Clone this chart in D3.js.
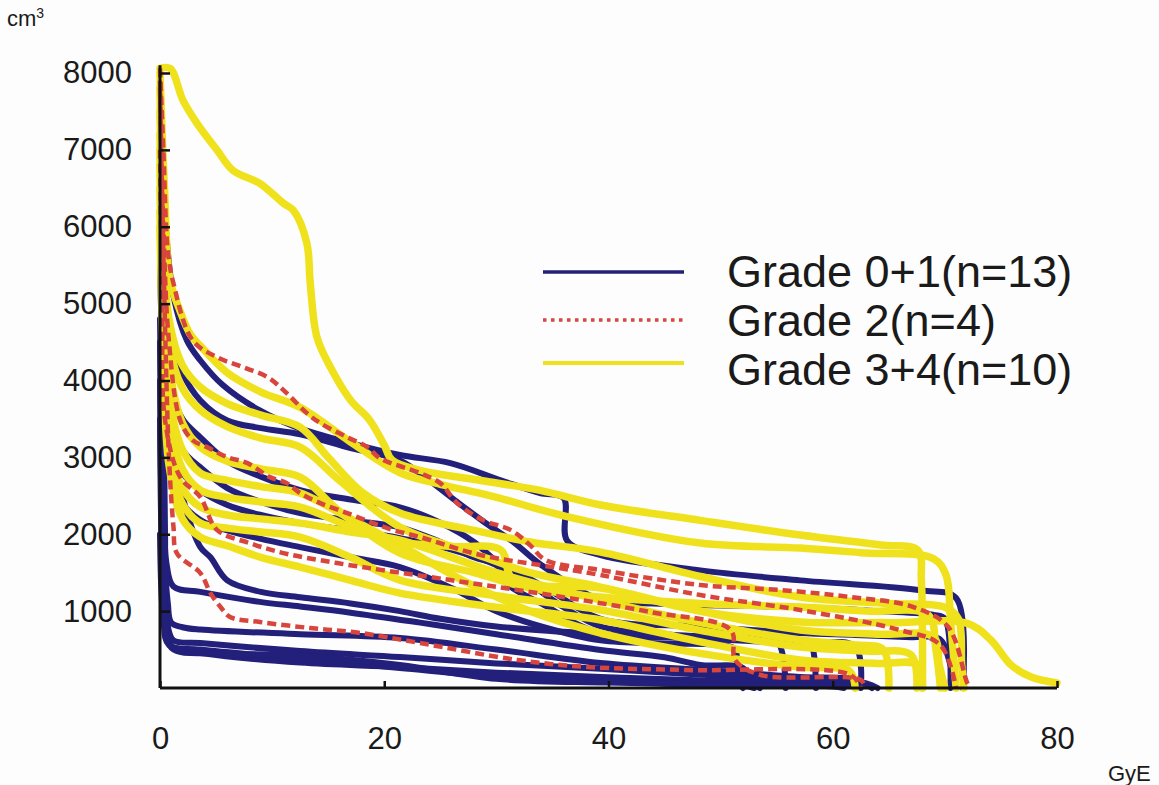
<!DOCTYPE html>
<html>
<head>
<meta charset="utf-8">
<script src="https://cdn.jsdelivr.net/npm/d3@7"></script>
<style>
  html, body { margin: 0; padding: 0; background: #fdfdfd; }
  svg { display: block; }
  text { font-family: "Liberation Sans", Arial, Helvetica, sans-serif; fill: #1a1a1a; }
</style>
</head>
<body>
<svg id="chart" width="1159" height="785"></svg>
<script>
// Dose-volume histograms: each curve is a list of [dose (GyE), volume (cm3)] points.

// Grade 0+1 (n=13)
const grade01 = [
  [[0,7000],[0.5,6000],[1.2,5100],[2.4,4520],[3.6,4260],[5.6,3940],[8.9,3610],[12.2,3390],[17,3185],[21.4,3030],[25.9,2925],[30.4,2700],[33.9,2535],[36,2470],[36.3,1920],[39.3,1730],[48.2,1530],[57.1,1400],[67.9,1270],[71,1170],[71.6,0]],
  [[0,6800],[0.4,5400],[1,4600],[2,4100],[3.6,3740],[6,3480],[9,3380],[12.5,3300],[17,3120],[21.4,2960],[24,2700],[26.5,2420],[29,2150],[31.5,1900],[34,1600],[39.3,1150],[44,1100],[48.2,1080],[57.1,1050],[64,1000],[69,950],[70,900],[70.5,0]],
  [[0,6200],[0.4,4800],[1,3900],[2,3500],[3.6,3260],[6,2950],[9,2750],[12.5,2575],[17,2450],[21.4,2350],[25,2150],[28,1900],[30,1650],[32,1500],[35,1250],[39.3,900],[48.2,800],[57.1,715],[62,690],[67,660],[69.5,640],[70.5,300],[71,0]],
  [[0,6000],[0.3,4500],[0.8,3700],[2,3100],[3.6,2870],[6,2600],[9,2420],[12.5,2275],[17,2180],[21.4,2090],[25,1900],[28,1700],[30,1600],[31,1350],[34,1100],[39.3,715],[48.2,670],[57.1,624],[58,600],[58.5,0]],
  [[0,5800],[0.3,4300],[0.8,3300],[2,2800],[3.6,2570],[6,2380],[9,2250],[12.5,2145],[17,2050],[21.4,1950],[26,1800],[30,1600],[33,1350],[36,1050],[39.3,800],[45,700],[52,650],[55,620],[55.8,0]],
  [[0,5500],[0.3,4000],[0.7,3000],[1.5,2500],[3.6,2184],[6,2050],[9,1940],[12.5,1833],[17,1700],[21.4,1573],[26,1300],[30,1000],[34,800],[39.3,620],[45,580],[50,560],[51.3,500],[51.5,100],[52,0]],
  [[0,6000],[0.5,4500],[1,3400],[2,2500],[3.6,1833],[4.5,1700],[6,1400],[9,1250],[12.5,1180],[17,1100],[21.4,1000],[25,900],[30,800],[39.3,700],[48.2,640],[57.1,580],[62,540],[62.5,0]],
  [[0,4800],[0.3,2500],[0.6,1600],[1.2,1320],[3.6,1250],[8.9,1120],[12.5,1060],[17,980],[23.2,850],[30,700],[39.3,494],[45,400],[48.2,300],[52,260],[53,50],[53.5,0]],
  [[0,4500],[0.3,2000],[0.7,1100],[1,850],[2,790],[3.6,760],[12.5,700],[21.4,650],[30,500],[39.3,325],[50,220],[57.1,143],[62,110],[63.5,0]],
  [[0,4000],[0.3,1500],[0.7,800],[1.2,620],[3.6,585],[12.5,480],[21.4,403],[30,320],[39.3,250],[50,160],[57.1,100],[63,60],[64,0]],
  [[0,3500],[0.3,1200],[0.7,650],[1.2,520],[3.6,455],[12.5,330],[21.4,273],[30,200],[39.3,143],[50,90],[57.1,60],[61.5,40],[62,0]],
  [[0,2000],[0.3,900],[0.8,560],[3.6,500],[12.5,380],[21.4,260],[30,150],[39.3,100],[45,60],[52,30],[53,0]],
  [[0,8000],[0.15,6000],[0.3,4000],[0.45,2000],[0.7,600],[1.5,480],[5,450],[12.5,420],[21.4,300],[30,120],[40,70],[50,40],[60,20],[61,0]]
];

// Grade 2 (n=4)
const grade2 = [
  [[0,8060],[0.3,7000],[0.7,5690],[1.2,5265],[2.9,4524],[5.1,4303],[7.4,4173],[9.6,4043],[11.3,3835],[13.1,3575],[14.3,3445],[16.7,3263],[18.5,3133],[19.6,2990],[23.2,2795],[25,2665],[26.5,2405],[28.8,2184],[31.3,2054],[33,1859],[34.4,1664],[39.3,1534],[48.2,1339],[55.4,1274],[61.6,1183],[67.2,1053],[70.3,793],[72,65],[72.3,0]],
  [[0,7900],[0.3,6000],[0.8,4500],[1.8,3484],[2.9,3224],[4.2,3133],[6,3003],[7.8,2925],[9.8,2743],[11.3,2665],[12.5,2535],[14.3,2405],[16.7,2275],[19,2145],[20.8,2054],[23.2,1963],[28.6,1729],[33.9,1599],[39.3,1469],[48.2,1209],[57.1,1014],[66,754],[69.6,559],[71,0]],
  [[0,7800],[0.4,5000],[0.8,3000],[1.2,2100],[1.5,1755],[3.6,1495],[4.5,1235],[5.4,1053],[6.25,923],[8.9,858],[13.4,780],[17.9,715],[23.2,585],[31.9,364],[38.1,273],[47,234],[61.6,169],[62.5,0]],
  [[0,7000],[0.2,5000],[0.45,3484],[1.8,2743],[3.6,2483],[5.1,2054],[8,1885],[11,1755],[15.8,1625],[25.9,1404],[34.8,1209],[43.75,988],[50.9,754],[51.3,364],[53.6,169],[62.5,104],[62.9,0]]
];

// Grade 3+4 (n=10)
const grade34 = [
  [[0,8060],[0.9,8060],[2.05,7644],[3.3,7345],[5.1,6994],[6.5,6734],[8.9,6565],[11,6305],[11.9,6214],[13.1,5785],[13.4,5265],[14,4563],[15.2,4173],[17,3744],[18.7,3484],[20,3159],[20.7,2964],[23.2,2830],[28.6,2700],[33.9,2570],[39.3,2380],[48.2,2180],[57.1,1990],[64.3,1860],[67.6,1790],[67.9,1400],[68,0]],
  [[0,8000],[0.4,6500],[0.9,5300],[1.8,4900],[2.7,4600],[3.6,4450],[6,4100],[9,3850],[12.5,3650],[17,3200],[21.4,2800],[25,2650],[29.5,2500],[36.3,2230],[48.2,1885],[57.1,1820],[62.5,1760],[69,1680],[70.1,1470],[70.5,884],[71,0]],
  [[0,7500],[0.3,6000],[0.8,4800],[2,4200],[3.6,3913],[6,3700],[9,3550],[12.5,3393],[15,3000],[18,2550],[21.4,2275],[28,2050],[33,1900],[39.3,1768],[48.2,1450],[57.1,1183],[65,1100],[70,1050],[71.2,900],[71.5,300],[71.7,0]],
  [[0,7800],[0.3,6000],[0.8,4500],[2,3900],[3.6,3614],[6,3400],[9,3250],[12.5,3133],[16,2700],[21.4,2093],[28,1750],[33,1500],[39.3,1313],[48.2,1000],[57.1,860],[65,850],[72,840],[74.1,624],[75.9,299],[77.7,143],[80,65]],
  [[0,7200],[0.3,5500],[0.8,4200],[2,3450],[3.6,3133],[6,2950],[9,2850],[12.5,2743],[16,2300],[21.4,1755],[28,1500],[33,1300],[39.3,1183],[48.2,1100],[57.1,1053],[63,1000],[68.5,950],[69.2,500],[69.6,0]],
  [[0,7000],[0.3,5200],[0.8,3800],[2,3100],[3.6,2795],[6,2700],[9,2620],[12.5,2535],[17,2200],[21.4,1859],[27,1400],[33,1000],[39.3,715],[48.2,450],[57.1,273],[61.5,220],[62,0]],
  [[0,6800],[0.3,5000],[0.8,3600],[2,2850],[3.6,2574],[6,2480],[9,2420],[12.5,2353],[17,2100],[21.4,1900],[26,1840],[30.4,1794],[31.5,1404],[39.3,1300],[48.2,1000],[57.1,754],[64,700],[69,660],[69.5,300],[70,0]],
  [[0,6500],[0.3,4800],[0.8,3300],[2,2600],[3.6,2353],[6,2250],[9,2200],[12.5,2145],[17,2030],[21.4,1924],[30,1500],[39.3,1144],[48.2,850],[57.1,624],[62,560],[64.5,500],[65,0]],
  [[0,6200],[0.3,4500],[0.8,3100],[2,2400],[3.6,2145],[6,2080],[9,2030],[12.5,1963],[17,1700],[21.4,1404],[30,1200],[39.3,1014],[48.2,750],[57.1,533],[63,480],[67,430],[67.5,0]],
  [[0,6000],[0.3,4300],[0.8,2900],[2,2200],[3.6,1963],[6,1850],[9,1700],[12.5,1573],[17,1400],[21.4,1235],[30,1050],[39.3,884],[48.2,600],[57.1,364],[64,320],[67.6,300],[68,0]]
];

const yTicks = [1000, 2000, 3000, 4000, 5000, 6000, 7000, 8000];
const xTicks = [0, 20, 40, 60, 80];
const legendLabels = ["Grade 0+1(n=13)", "Grade 2(n=4)", "Grade 3+4(n=10)"];

const colors = { g01: "#22207a", g2: "#d8453d", g34: "#efe21c" };

const svg = d3.select("#chart");

const x = d3.scaleLinear().domain([0, 80]).range([160, 1057]);
const y = d3.scaleLinear().domain([0, 8100]).range([688, 65.3]);

const line = d3.line()
  .x(d => x(d[0]))
  .y(d => y(d[1]))
  .curve(d3.curveCatmullRom.alpha(0.5));

const plot = svg.append("g");

// Grade 0+1 curves (solid navy)
plot.append("g").selectAll("path").data(grade01).join("path")
  .attr("d", line)
  .attr("fill", "none")
  .attr("stroke", colors.g01)
  .attr("stroke-width", 6)
  .attr("stroke-linejoin", "round")
  .attr("stroke-linecap", "round");

// Grade 3+4 curves (solid yellow)
plot.append("g").selectAll("path").data(grade34).join("path")
  .attr("d", line)
  .attr("fill", "none")
  .attr("stroke", colors.g34)
  .attr("stroke-width", 7.5)
  .attr("stroke-linejoin", "round")
  .attr("stroke-linecap", "round");

// Grade 2 curves (dashed red)
plot.append("g").selectAll("path").data(grade2).join("path")
  .attr("d", line)
  .attr("fill", "none")
  .attr("stroke", colors.g2)
  .attr("stroke-width", 4.5)
  .attr("stroke-dasharray", "9,5")
  .attr("stroke-linejoin", "round");

// Axes
const fmt = d3.format("d");
const yAxis = d3.axisLeft(y).tickValues(yTicks).tickFormat(fmt).tickSizeInner(-10).tickSizeOuter(0).tickPadding(28);
const xAxis = d3.axisBottom(x).tickValues(xTicks).tickFormat(fmt).tickSizeInner(-7).tickSizeOuter(0).tickPadding(39);

const gy = svg.append("g").attr("transform", "translate(160,0)").call(yAxis);
const gx = svg.append("g").attr("transform", "translate(0,688)").call(xAxis);

[gy, gx].forEach(g => {
  g.select(".domain").attr("stroke", "#111").attr("stroke-width", 3);
  g.selectAll(".tick line").attr("stroke", "#111").attr("stroke-width", 2.5);
  g.selectAll(".tick text")
    .attr("font-family", "'Liberation Sans', Arial, sans-serif")
    .attr("font-size", 31)
    .attr("fill", "#1a1a1a");
});
gy.select(".domain").attr("d", `M0,${y(8100)}V${y(0)}`);
gx.select(".domain").attr("d", `M${x(0)},0H${x(80)}`);

// Axis unit labels
const unitY = svg.append("text").attr("x", 7).attr("y", 26).attr("font-size", 22);
unitY.append("tspan").text("cm");
unitY.append("tspan").attr("font-size", 14).attr("dy", -8).text("3");

svg.append("text").attr("x", 1108).attr("y", 781).attr("font-size", 22).text("GyE");

// Legend
const legend = svg.append("g");
const legendY = [272, 320, 363];
const legendStyles = [
  { stroke: colors.g01, width: 3.5, dash: null },
  { stroke: colors.g2, width: 3.5, dash: "3.5,4.5" },
  { stroke: colors.g34, width: 4, dash: null }
];
legendLabels.forEach((label, i) => {
  const s = legendStyles[i];
  legend.append("line")
    .attr("x1", 543).attr("x2", 684)
    .attr("y1", legendY[i]).attr("y2", legendY[i])
    .attr("stroke", s.stroke)
    .attr("stroke-width", s.width)
    .attr("stroke-dasharray", s.dash);
  legend.append("text")
    .attr("x", 727)
    .attr("y", [287, 336, 385][i])
    .attr("font-size", 45)
    .text(label);
});
</script>
</body>
</html>
